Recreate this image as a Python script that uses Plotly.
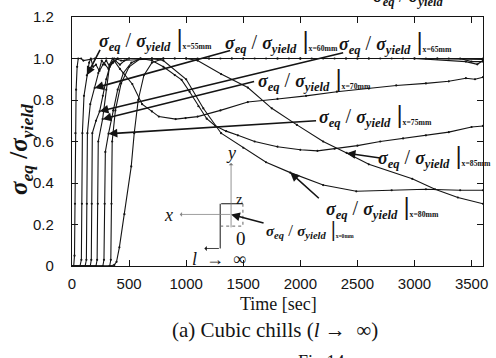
import plotly.graph_objects as go

# Equivalent stress ratio sigma_eq / sigma_yield versus time, one series per position x
t_50 = [0, 15, 22, 26, 30, 36, 45, 55, 80, 100, 200, 300, 400, 500, 600, 700, 800, 900, 1000,
        1100, 1200, 1300, 1400, 1500, 1600, 1700, 1800, 1900, 2000, 2100, 2200, 2300, 2400,
        2500, 2600, 2700, 2800, 2900, 3000, 3100, 3200, 3300, 3400, 3500, 3600]
s_50 = [0, 0, 0.05, 0.3, 0.64, 0.85, 0.96, 1.0, 1.0, 0.99, 1.0, 1.0, 1.0, 1.0, 1.0, 1.0, 1.0, 1.0, 1.0,
        1.0, 1.0, 1.0, 1.0, 1.0, 1.0, 1.0, 1.0, 1.0, 1.0, 1.0, 1.0, 1.0, 1.0,
        1.0, 1.0, 1.0, 1.0, 1.0, 1.0, 1.0, 1.0, 1.0, 1.0, 0.985, 0.985]

t_55 = [0, 70, 82, 87, 91, 105, 130, 150, 165, 185, 210, 240, 270, 300, 330, 360, 400, 700, 1200,
        1800, 2400, 3000, 3600]
s_55 = [0, 0, 0.03, 0.3, 0.64, 0.82, 0.919, 0.98, 1.0, 0.96, 0.97, 0.94, 0.97, 0.99, 0.96, 0.98,
        1.0, 1.0, 1.0, 1.0, 1.0, 1.0, 0.995]

t_60 = [0, 115, 126, 130, 135, 160, 199, 230, 260, 290, 320, 350, 380, 420, 460, 500, 1000, 1500,
        2000, 2500, 3000, 3450, 3550, 3600]
s_60 = [0, 0, 0.03, 0.3, 0.64, 0.78, 0.858, 0.93, 0.99, 0.97, 0.95, 0.98, 0.99, 0.97, 0.99, 1.0,
        1.0, 1.0, 1.0, 1.0, 1.0, 0.985, 0.972, 0.99]

t_65 = [0, 160, 169, 173, 178, 210, 242, 270, 300, 330, 370, 430, 800, 1400, 2000, 2600, 3200, 3600]
s_65 = [0, 0, 0.03, 0.3, 0.64, 0.70, 0.745, 0.82, 0.90, 0.96, 1.0, 0.99, 1.0, 1.0, 1.0, 1.0, 1.0, 1.0]

t_70 = [0, 210, 220, 226, 230, 268, 300, 330, 355, 420, 528, 614, 700, 761, 908, 995, 1100, 1300,
        1540, 1800, 2050, 2320, 2600, 2840, 3100, 3300, 3450, 3530, 3600]
s_70 = [0, 0, 0.03, 0.3, 0.6, 0.708, 0.85, 0.97, 1.0, 0.95, 0.877, 0.78, 0.745, 0.72, 0.708, 0.713,
        0.72, 0.75, 0.79, 0.805, 0.82, 0.84, 0.855, 0.87, 0.88, 0.89, 0.905, 0.90, 0.91]

t_75 = [0, 270, 280, 286, 292, 320, 360, 400, 450, 520, 600, 700, 800, 900, 960, 1030, 1107, 1180,
        1254, 1350, 1453, 1600, 1800, 2000, 2150, 2300, 2500, 2700, 2900, 3100, 3300, 3500, 3600]
s_75 = [0, 0, 0.03, 0.3, 0.55, 0.6375, 0.75, 0.85, 0.93, 0.98, 1.0, 0.99, 0.96, 0.92, 0.897, 0.84,
        0.77, 0.71, 0.676, 0.65, 0.63, 0.60, 0.575, 0.56, 0.555, 0.565, 0.58, 0.60, 0.615, 0.63,
        0.645, 0.67, 0.675]

t_80 = [0, 330, 340, 346, 352, 380, 430, 500, 600, 700, 800, 1000, 1150, 1306, 1500, 1700, 1912,
        2200, 2490, 2800, 3100, 3400, 3600]
s_80 = [0, 0, 0.03, 0.3, 0.6, 0.75, 0.88, 0.96, 1.0, 1.0, 0.99, 0.90, 0.76, 0.64, 0.57, 0.50, 0.45,
        0.39, 0.36, 0.365, 0.37, 0.365, 0.365]

t_85 = [0, 330, 370, 390, 415, 459, 519, 545, 580, 630, 700, 800, 900, 1000, 1100, 1306, 1540,
        1750, 1970, 2200, 2406, 2600, 2980, 3180, 3380, 3600]
s_85 = [0, 0, 0.005, 0.02, 0.09, 0.25, 0.48, 0.64, 0.80, 0.92, 0.98, 1.0, 1.0, 1.0, 0.99, 0.925,
        0.86, 0.76, 0.68, 0.60, 0.545, 0.49, 0.42, 0.37, 0.33, 0.30]

series = [(t_50, s_50), (t_55, s_55), (t_60, s_60), (t_65, s_65),
          (t_70, s_70), (t_75, s_75), (t_80, s_80), (t_85, s_85)]

x_ticks = [0, 500, 1000, 1500, 2000, 2500, 3000, 3500]
y_ticks = [0, 0.2, 0.4, 0.6, 0.8, 1.0, 1.2]
y_tick_text = ["0", "0.2", "0.4", "0.6", "0.8", "1.0", "1.2"]

W, H = 496, 358
ML, MR, MT, MB = 72, 8, 10, 92
PW, PH = W - ML - MR, H - MT - MB

INK = "#141414"
SERIF = "Liberation Serif, Times New Roman, serif"
SANS = "Liberation Sans, Arial, sans-serif"


def px(xp):
    return (xp - ML) / PW


def py(yp):
    return (H - MB - yp) / PH


fig = go.Figure()
for t, s in series:
    fig.add_trace(go.Scatter(x=t, y=s, mode="lines+markers",
                             line=dict(color=INK, width=1.1),
                             marker=dict(color=INK, size=2.2),
                             showlegend=False, hoverinfo="skip"))


def ratio_label(pos, big=18, small=11, bar=26):
    return ("<b><i>σ</i></b><sub><b><i>eq</i></b></sub>"
            f"<span style='font-size:{big + 2}px'> / </span>"
            "<b><i>σ</i></b><sub><b><i>yield</i></b></sub>"
            f"<span style='font-size:{bar}px'><b> |</b></span>"
            f"<span style='font-size:{small}px'><sub><b>x={pos}mm</b></sub></span>")


annotations = []
# curve labels (left edge px, centre py)
labels = [("55", 97, 33), ("60", 225, 35), ("65", 340, 36), ("70", 258, 74),
          ("75", 320, 111), ("85", 380, 153), ("80", 327, 205)]
for pos, lx, ly in labels:
    annotations.append(dict(xref="paper", yref="paper", x=px(lx), y=py(ly),
                            xanchor="left", yanchor="middle", showarrow=False,
                            text=ratio_label(pos),
                            font=dict(family=SERIF, size=18, color=INK)))
annotations.append(dict(xref="paper", yref="paper", x=px(266), y=py(228),
                        xanchor="left", yanchor="middle", showarrow=False,
                        text=ratio_label("0", big=15, small=8, bar=21),
                        font=dict(family=SERIF, size=15, color=INK)))

# pointer arrows: (tip px, tip py, tail px, tail py)
pointers = [(87, 70, 101, 43), (95, 83, 232, 45), (100, 107, 345, 48), (103, 115, 256, 77),
            (109, 130, 318, 117), (350, 150, 385, 155), (293, 170, 323, 197), (233, 213, 267, 222)]
for tx, ty, ax, ay in pointers:
    annotations.append(dict(xref="paper", yref="paper", x=px(tx), y=py(ty),
                            axref="pixel", ayref="pixel", ax=ax - tx, ay=ay - ty,
                            text="", showarrow=True, arrowhead=2, arrowsize=1.1,
                            arrowwidth=1.6, arrowcolor=INK))

# coordinate sketch: y axis arrow, x axis dotted arrow
annotations.append(dict(xref="paper", yref="paper", x=px(233), y=py(160),
                        axref="pixel", ayref="pixel", ax=0, ay=66, text="",
                        showarrow=True, arrowhead=1, arrowsize=1, arrowwidth=0.8,
                        arrowcolor="#777"))
annotations.append(dict(xref="paper", yref="paper", x=px(181), y=py(213),
                        axref="pixel", ayref="pixel", ax=52, ay=0, text="",
                        showarrow=True, arrowhead=1, arrowsize=1, arrowwidth=0.8,
                        arrowcolor="#888"))
annotations.append(dict(xref="paper", yref="paper", x=px(206), y=py(248),
                        axref="pixel", ayref="pixel", ax=16, ay=0, text="",
                        showarrow=True, arrowhead=1, arrowsize=1, arrowwidth=0.8,
                        arrowcolor=INK))
sketch_text = [("<i>y</i>", 233, 150, 18), ("z", 242, 197, 15), ("<i>x</i>", 170, 214, 18),
               ("0", 243, 238, 19), ("<i>l</i>  →  ∞", 221, 259, 18)]
for txt, tx, ty, fs in sketch_text:
    annotations.append(dict(xref="paper", yref="paper", x=px(tx), y=py(ty),
                            xanchor="center", yanchor="middle", showarrow=False,
                            text=txt, font=dict(family=SERIF, size=fs, color=INK)))

# axis titles and caption
annotations.append(dict(xref="paper", yref="paper", x=px(20), y=py(146),
                        xanchor="center", yanchor="middle", showarrow=False, textangle=-90,
                        text="<b><i>σ</i></b><sub><b><i>eq</i></b></sub><b> /</b>"
                             "<b><i>σ</i></b><sub><b><i>yield</i></b></sub>",
                        font=dict(family=SERIF, size=25, color=INK)))
annotations.append(dict(xref="paper", yref="paper", x=px(281), y=py(305),
                        xanchor="center", yanchor="middle", showarrow=False,
                        text="Time [sec]", font=dict(family=SERIF, size=18, color=INK)))
annotations.append(dict(xref="paper", yref="paper", x=px(277), y=py(332),
                        xanchor="center", yanchor="middle", showarrow=False,
                        text="(a) Cubic chills (<i>l</i> →  ∞)",
                        font=dict(family=SERIF, size=21, color=INK)))
annotations.append(dict(xref="paper", yref="paper", x=px(325), y=py(365),
                        xanchor="center", yanchor="middle", showarrow=False,
                        text="Fig.14", font=dict(family=SERIF, size=18, color=INK)))
annotations.append(dict(xref="paper", yref="paper", x=px(412), y=py(-10),
                        xanchor="center", yanchor="middle", showarrow=False,
                        text="<b><i>σ</i></b><sub><b><i>eq</i></b></sub> / "
                             "<b><i>σ</i></b><sub><b><i>yield</i></b></sub>",
                        font=dict(family=SERIF, size=18, color=INK)))

# box around the origin of the sketch
shapes = [
    dict(type="line", xref="paper", yref="paper", x0=px(223), y0=py(202), x1=px(245), y1=py(202),
         line=dict(color=INK, width=1)),
    dict(type="line", xref="paper", yref="paper", x0=px(222), y0=py(202), x1=px(222), y1=py(248),
         line=dict(color=INK, width=1)),
    dict(type="line", xref="paper", yref="paper", x0=px(245), y0=py(202), x1=px(245), y1=py(225),
         line=dict(color="#666", width=1, dash="dot")),
    dict(type="line", xref="paper", yref="paper", x0=px(222), y0=py(225), x1=px(245), y1=py(225),
         line=dict(color="#666", width=1, dash="dot")),
]

axis_common = dict(showline=True, linecolor=INK, linewidth=1.3, mirror="allticks",
                   ticks="inside", ticklen=6, tickcolor=INK, tickwidth=1,
                   showgrid=False, zeroline=False,
                   tickfont=dict(family=SANS, size=15, color=INK))

fig.update_layout(
    width=W, height=H,
    margin=dict(l=ML, r=MR, t=MT, b=MB),
    paper_bgcolor="white", plot_bgcolor="white",
    xaxis=dict(range=[0, 3600], tickvals=x_ticks, ticklabelstandoff=4, **axis_common),
    yaxis=dict(range=[0, 1.2], tickvals=y_ticks, ticktext=y_tick_text,
               ticklabelstandoff=14, **axis_common),
    annotations=annotations,
    shapes=shapes,
)

fig.write_html("out.html")
